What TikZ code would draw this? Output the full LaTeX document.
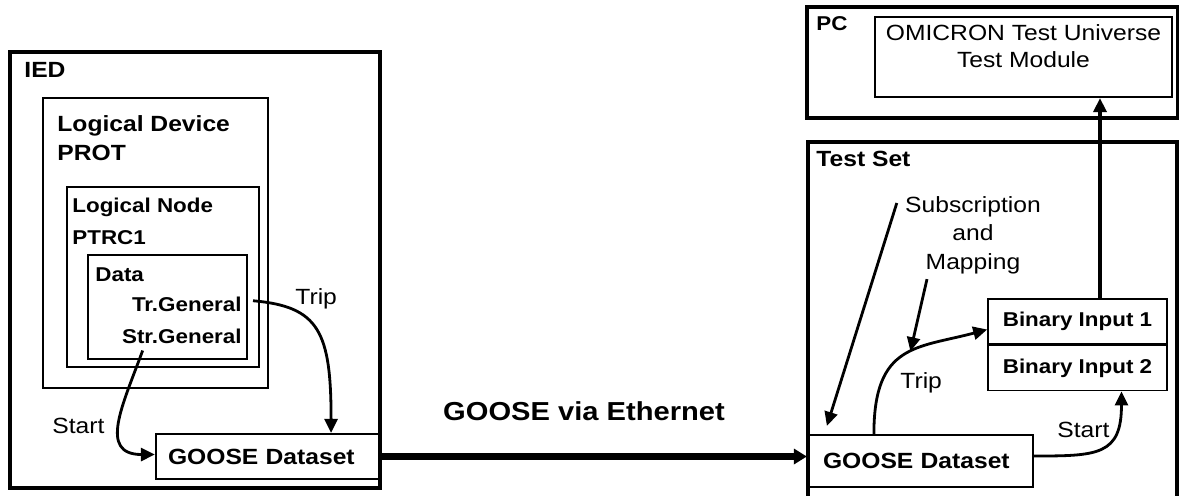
\documentclass[tikz,border=0pt]{standalone}
\usepackage{fontspec}
\setmainfont{Liberation Sans}[FakeStretch=1.12]
\usetikzlibrary{arrows.meta, positioning, fit}

\begin{document}
\begin{tikzpicture}[
    x=0.5pt, y=-0.5pt,
    outerbox/.style={draw, line width=1.6pt, inner sep=0pt},
    devbox/.style={draw, line width=1.1pt, inner sep=0pt},
    nodebox/.style={draw, line width=0.9pt, inner sep=0pt},
    databox/.style={draw, line width=0.7pt, inner sep=0pt},
    lbl/.style={inner sep=0pt, anchor=north west, align=left},
    big/.style={font=\fontsize{11}{14.5}\selectfont\bfseries},
    sml/.style={font=\fontsize{10}{16}\selectfont\bfseries},
    txt/.style={inner sep=0pt, font=\fontsize{11}{14.2}\selectfont},
    headline/.style={inner sep=0pt, font=\fontsize{13}{15}\selectfont\bfseries},
    dset/.style={draw, line width=1.1pt, align=left, font=\fontsize{11}{13}\selectfont\bfseries},
    bin/.style={draw, line width=0.8pt, minimum width=89.5pt, minimum height=22.5pt, inner sep=0pt, font=\fontsize{10}{12}\selectfont\bfseries},
    arrow/.style={-{Triangle[length=7pt,width=6.5pt]}, line width=1.4pt},
    link/.style={-{Triangle[length=6.5pt,width=7.5pt]}, line width=3.3pt},
    uplink/.style={-{Triangle[length=7pt,width=6.5pt]}, line width=2.2pt}
]
\useasboundingbox (0,0) rectangle (1179,495);

% IED side
\node[outerbox, fit={(10,52) (380,488)}] (ied) {};
\node[lbl, big] (iedl) at (24,62) {IED};
\node[devbox, fit={(43,98) (268,388)}] (ld) {};
\node[lbl, big] (ldl) at (57,115) {Logical Device\\PROT};
\node[nodebox, fit={(67,187) (259,367)}] (ln) {};
\node[lbl, sml] (lnl) at (72,198) {Logical Node\\PTRC1};
\node[databox, fit={(88,255) (247,359)}] (data) {};
\node[lbl, sml] (datal) at (95,267) {Data};
\node[lbl, sml, anchor=north east] (trgen) at (242,297) {Tr.General};
\node[lbl, sml, anchor=north east] (strgen) at (242,329) {Str.General};

\node[dset, text width=100pt, inner xsep=6pt, minimum height=22.5pt] (goosel) at (268,456.5) {GOOSE Dataset};

\draw[arrow] ([shift={(5.5pt,2pt)}]trgen.east) to[out=-5, in=90, out looseness=1.1, in looseness=1.7] ([xshift=-25pt]goosel.north east);
\node[txt, anchor=north west] (tripl) at (295,288) {Trip};
\draw[arrow] ([shift={(10.5pt,-3pt)}]strgen.south west) to[out=-110, in=180, looseness=1.4] ([yshift=1pt]goosel.west);
\node[txt, anchor=north west] (startl) at (52,418) {Start};

% Ethernet link
\node[headline, anchor=base] (ethl) at (584,420) {GOOSE via Ethernet};

% PC
\node[outerbox, fit={(807,7) (1178,118)}] (pc) {};
\node[lbl, font=\fontsize{10}{11}\selectfont\bfseries] (pcl) at (816,16) {PC};
\node[devbox, fit={(875,17) (1172,97)}] (tm) {};
\node[txt, anchor=north, align=center, font=\fontsize{11}{13.5}\selectfont] (tml) at ([yshift=-4pt]tm.north) {OMICRON Test Universe\\Test Module};

% Test set
\node[outerbox, fit={(808,142) (1177,530)}] (ts) {};
\node[lbl, big] (tsl) at (816,151) {Test Set};
\node[txt, align=center, anchor=north] (subl) at (973,196) {Subscription\\and\\Mapping};

\node[dset, text width=97.5pt, inner xsep=7.5pt, minimum height=26pt] (gooser) at (920.5,461) {GOOSE Dataset};
\node[bin] (bin1) at (1077.5,321.5) {Binary Input 1};
\node[bin, below=0pt of bin1] (bin2) {Binary Input 2};

\draw[link] (goosel.east) -- (goosel.east -| gooser.west);

\draw[arrow] ([xshift=33.5pt]gooser.north west) to[out=90, in=195, out looseness=1.5, in looseness=1.2] coordinate[pos=0.55] (mapat) ([yshift=-4pt]bin1.west);
\node[txt, anchor=north west] (tripr) at (900,372) {Trip};
\draw[arrow] ([yshift=2.5pt]gooser.east) to[out=0, in=-90, looseness=1.5] ([xshift=22pt]bin2.south);
\node[txt, anchor=north west] (startr) at (1057,422) {Start};

\draw[arrow] ([shift={(-4pt,-3.5pt)}]subl.north west) -- ([shift={(10pt,4pt)}]gooser.north west);
\draw[arrow] ([shift={(-23pt,-2.5pt)}]subl.south) -- (mapat);

\coordinate (upfoot) at ([xshift=11.25pt]bin1.north);
\draw[uplink] (upfoot) -- (upfoot |- tm.south);

\end{tikzpicture}
\end{document}
